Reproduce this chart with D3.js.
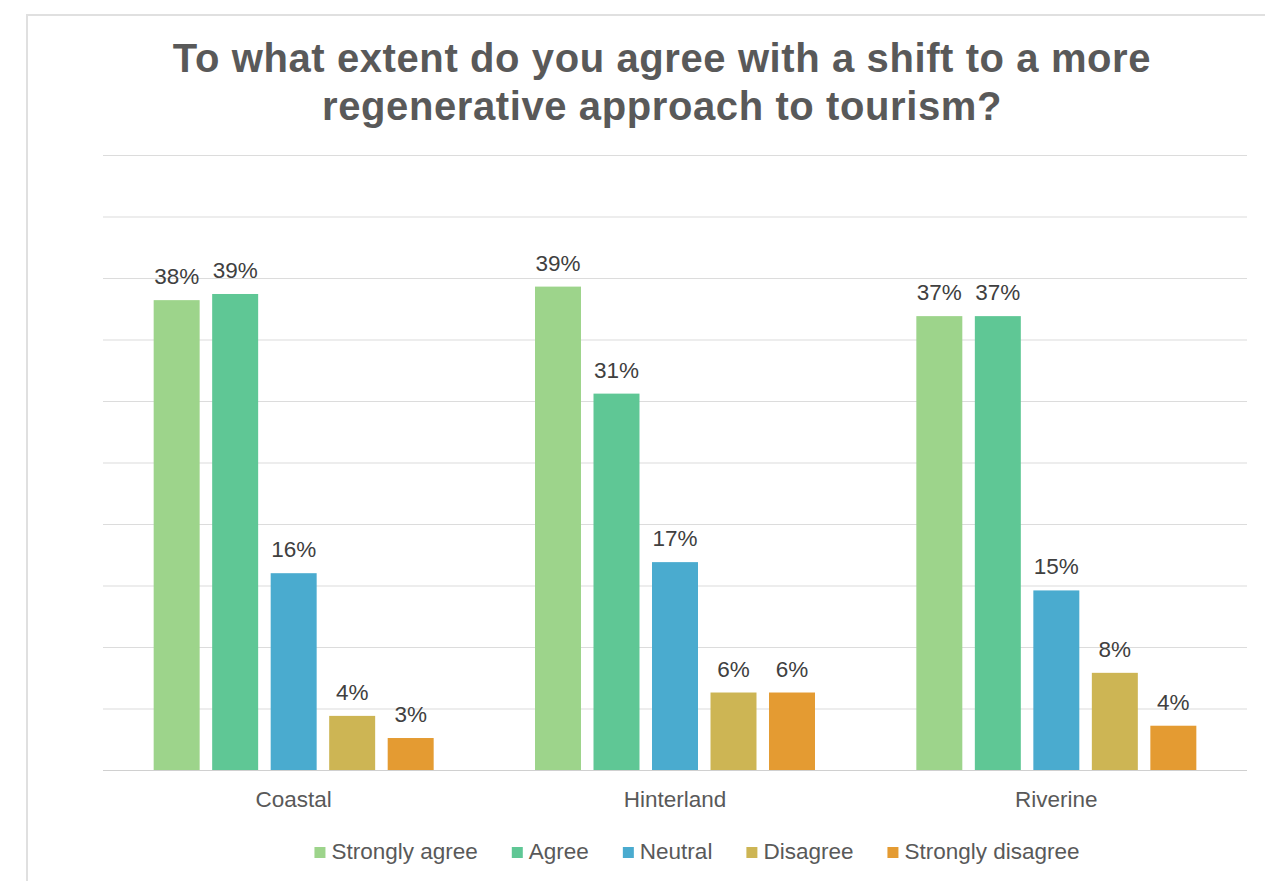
<!DOCTYPE html>
<html>
<head>
<meta charset="utf-8">
<script src="https://cdn.jsdelivr.net/npm/d3@7"></script>
<style>
  body { margin: 0; background: #ffffff; }
  svg { display: block; font-family: "Liberation Sans", Arial, sans-serif; }
</style>
</head>
<body>
<svg id="svg1" width="1265" height="881"></svg>
<script>
// chart data
const categories = ["Coastal", "Hinterland", "Riverine"];
const seriesNames = ["Strongly agree", "Agree", "Neutral", "Disagree", "Strongly disagree"];
const stronglyAgree = [38.2, 39.3, 36.9];
const agree = [38.7, 30.6, 36.9];
const neutral = [16.0, 16.9, 14.6];
const disagree = [4.4, 6.3, 7.9];
const stronglyDisagree = [2.6, 6.3, 3.6];
const seriesColors = ["#9dd48b", "#5fc795", "#4aabcf", "#cdb554", "#e49b32"];
const yTicks = [0, 5, 10, 15, 20, 25, 30, 35, 40, 45, 50];
const titleLines = ["To what extent do you agree with a shift to a more",
                    "regenerative approach to tourism?"];

const seriesValues = [stronglyAgree, agree, neutral, disagree, stronglyDisagree];

// layout
const plotLeft = 103;
const plotRight = 1247;
const plotTop = 155;
const plotBottom = 770;
const textColor = "#595959";

const svg = d3.select("#svg1");

// outer chart frame (cropped)
svg.append("rect")
    .attr("x", 27)
    .attr("y", 15)
    .attr("width", 1300)
    .attr("height", 900)
    .attr("fill", "none")
    .attr("stroke", "#e0e0e0")
    .attr("stroke-width", 2);

const xScale = d3.scaleBand()
                .domain(categories)
                .range([plotLeft, plotRight])
                .padding(0);

const xInner = d3.scaleBand()
                .domain(seriesNames)
                .range([0, xScale.bandwidth()])
                .paddingInner(0.214)
                .paddingOuter(0.866);

const yScale = d3.scaleLinear()
                .domain([0, 50])
                .range([plotBottom, plotTop]);

// gridlines
const gridAxis = d3.axisLeft(yScale)
                .tickValues(yTicks)
                .tickSize(-(plotRight - plotLeft))
                .tickFormat("");

svg.append("g")
    .attr("class", "grid")
    .attr("transform", "translate(" + plotLeft + ",0)")
    .call(gridAxis)
    .call(g => g.select(".domain").remove())
    .call(g => g.selectAll("line")
        .attr("stroke", d => d === 0 ? "#d0d0d0" : "#dcdcdc")
        .attr("stroke-width", 1.2));

// bars
const groups = svg.selectAll("g.category")
                .data(categories)
                .join("g")
                .attr("class", "category")
                .attr("transform", d => "translate(" + xScale(d) + ",0)");

groups.selectAll("rect")
    .data((c, ci) => seriesNames.map((s, si) => ({ series: s, si: si, value: seriesValues[si][ci] })))
    .join("rect")
    .attr("x", d => xInner(d.series))
    .attr("y", d => yScale(d.value))
    .attr("width", xInner.bandwidth())
    .attr("height", d => plotBottom - yScale(d.value))
    .attr("fill", d => seriesColors[d.si]);

// data labels
groups.selectAll("text")
    .data((c, ci) => seriesNames.map((s, si) => ({ series: s, si: si, value: seriesValues[si][ci] })))
    .join("text")
    .attr("x", d => xInner(d.series) + xInner.bandwidth() / 2)
    .attr("y", d => yScale(d.value) - 16)
    .attr("text-anchor", "middle")
    .attr("font-size", "22.5px")
    .attr("fill", "#404040")
    .text(d => Math.round(d.value) + "%");

// category labels
const bottomAxis = d3.axisBottom(xScale).tickSize(0).tickPadding(0);
svg.append("g")
    .attr("class", "axis")
    .attr("transform", "translate(0," + plotBottom + ")")
    .call(bottomAxis)
    .call(g => g.select(".domain").remove())
    .call(g => g.selectAll("text")
        .attr("dy", null)
        .attr("y", 37)
        .attr("font-family", "\"Liberation Sans\", Arial, sans-serif")
        .attr("font-size", "22.5px")
        .attr("fill", textColor));

// title
svg.append("text")
    .attr("x", 662)
    .attr("y", 72)
    .attr("text-anchor", "middle")
    .attr("font-size", "40px")
    .attr("font-weight", "bold")
    .attr("letter-spacing", "0.6px")
    .attr("fill", textColor)
    .selectAll("tspan")
    .data(titleLines)
    .join("tspan")
    .attr("x", 662)
    .attr("dy", (d, i) => i === 0 ? 0 : 48)
    .text(d => d);

// legend
const legend = svg.append("g").attr("class", "legend");
const items = legend.selectAll("g")
                .data(seriesNames)
                .join("g");

items.append("rect")
    .attr("width", 11)
    .attr("height", 11)
    .attr("y", -12)
    .attr("fill", (d, i) => seriesColors[i]);

items.append("text")
    .attr("x", 17)
    .attr("font-size", "22.5px")
    .attr("fill", textColor)
    .text(d => d);

const legendGap = 34;
let offset = 0;
const itemX = [];
items.each(function() {
    itemX.push(offset);
    offset += 17 + this.querySelector("text").getComputedTextLength() + legendGap;
});
const legendWidth = offset - legendGap;
const legendStart = 697 - legendWidth / 2;
items.attr("transform", (d, i) => "translate(" + (legendStart + itemX[i]) + ",859)");
</script>
</body>
</html>
